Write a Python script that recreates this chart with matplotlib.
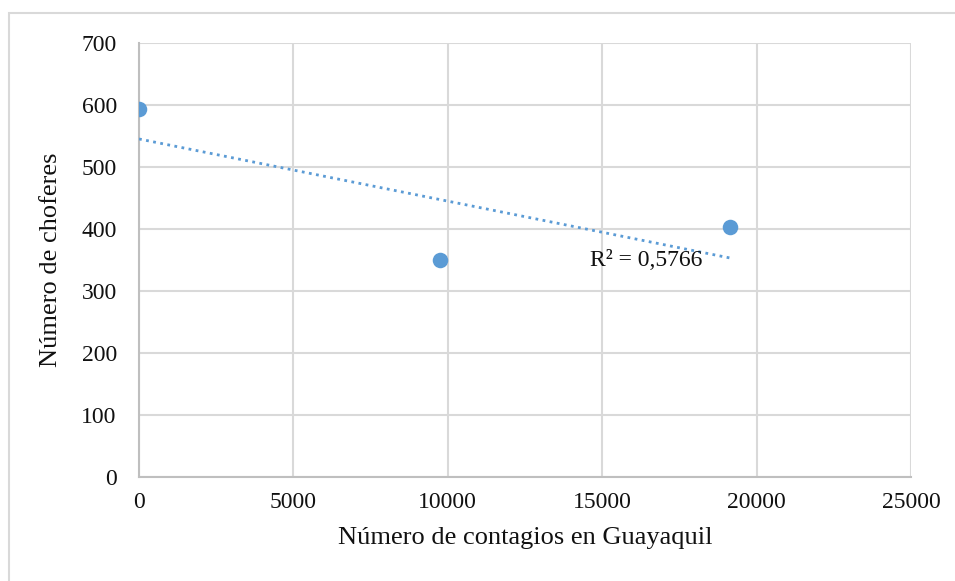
import matplotlib
matplotlib.use("Agg")
import matplotlib.pyplot as plt
import numpy as np
from matplotlib.patches import Rectangle

contagios = [0, 9750, 19130]
choferes = [593, 350, 403]
x_ticks = [0, 5000, 10000, 15000, 20000, 25000]
y_ticks = [0, 100, 200, 300, 400, 500, 600, 700]
r2_label = "R² = 0,5766"
xlabel = "Número de contagios en Guayaquil"
ylabel = "Número de choferes"

plt.rcParams['font.family'] = ['Liberation Serif', 'DejaVu Serif']

fig = plt.figure(figsize=(9.55, 5.81), dpi=100)
fig.patches.append(Rectangle((9/955, -0.1), 2.0, (581-13)/581 + 0.1, transform=fig.transFigure,
                             fill=False, edgecolor='#d9d9d9', linewidth=1.5, zorder=0))
ax = fig.add_axes([139/955, (581-477)/581, (911-139)/955, (477-43)/581])

color = '#5b9bd5'
ax.scatter(contagios, choferes, s=125, color=color, zorder=4, linewidths=0)

coef = np.polyfit(contagios, choferes, 1)
xs = np.array([min(contagios), max(contagios)])
ax.plot(xs, np.polyval(coef, xs), linestyle=(0, (1, 1.6)), color=color, linewidth=2.0, zorder=3)

ax.text(14600, 350, r2_label, fontsize=17, ha='left', va='center', color='#111111', zorder=5)

ax.set_xlim(0, 25000)
ax.set_ylim(0, 700)
ax.set_xticks(x_ticks)
ax.set_yticks(y_ticks)
ax.grid(True, color='#d9d9d9', linewidth=1.5)
ax.set_axisbelow(True)
for s in ['top', 'right']:
    ax.spines[s].set_visible(False)
for s in ['left', 'bottom']:
    ax.spines[s].set_color('#bfbfbf')
    ax.spines[s].set_linewidth(1.5)
ax.tick_params(axis='both', length=0, labelsize=17, colors='#111111')
ax.tick_params(axis='y', pad=16)
ax.tick_params(axis='x', pad=11)
ax.set_xlabel(xlabel, fontsize=19, labelpad=10, color='#111111')
ax.set_ylabel(ylabel, fontsize=19, labelpad=14, color='#111111')

fig.savefig('out.png', dpi=100)
